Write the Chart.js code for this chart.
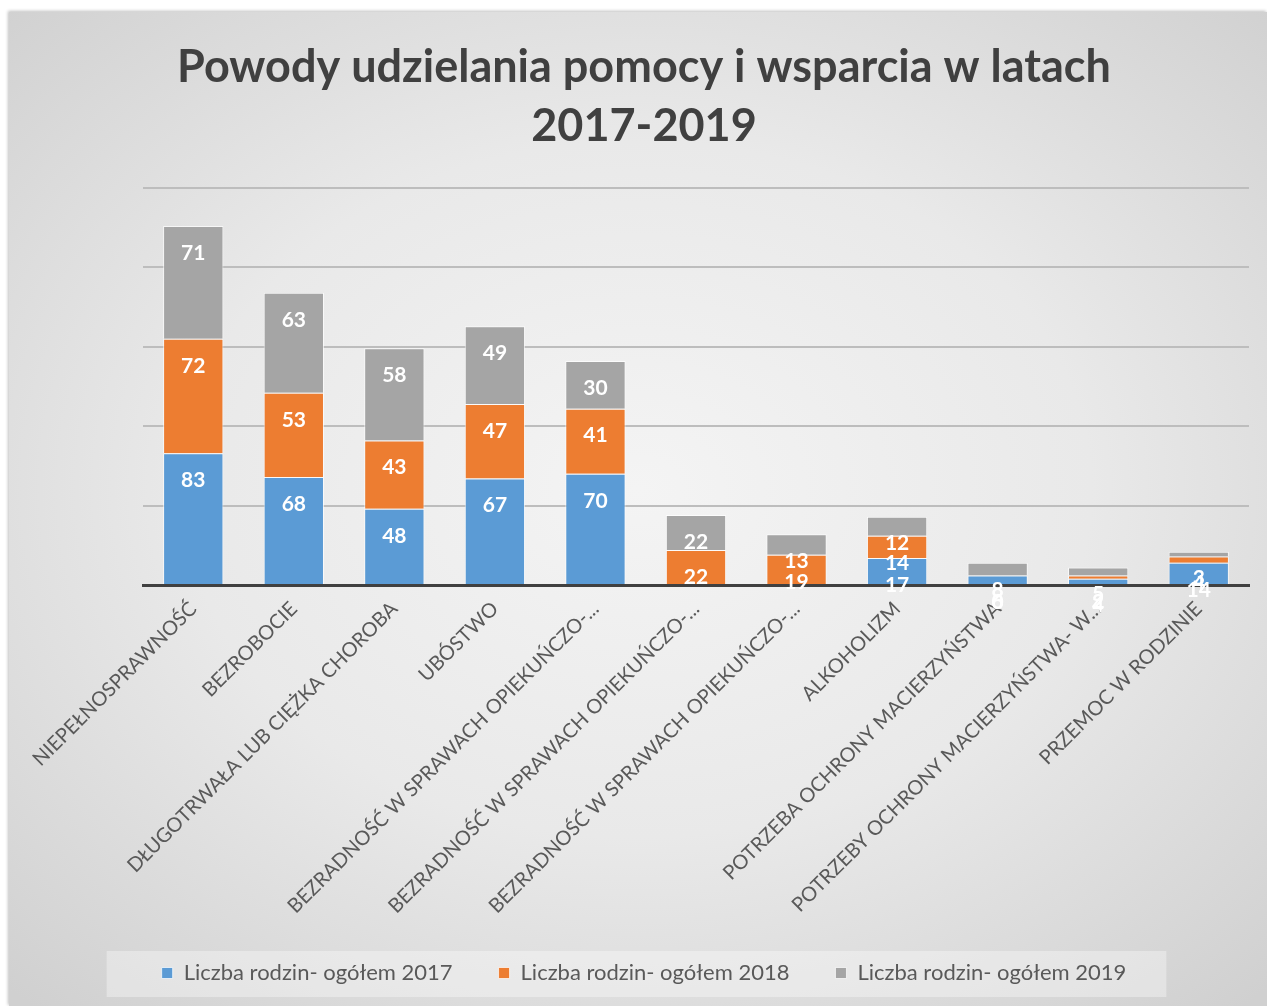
<!DOCTYPE html>
<html><head><meta charset="UTF-8">
<title>Powody udzielania pomocy i wsparcia w latach 2017-2019</title>
<script src="https://cdn.jsdelivr.net/npm/chart.js"></script>
<style>
  html,body{margin:0;background:#fff;overflow:hidden}
  #panel{position:absolute;left:9px;top:12px;width:1258px;height:994px;
    background:radial-gradient(ellipse 72% 70% at 50% 48%,#f4f4f4 0%,#e9e9e9 50%,#d0d0d0 100%);
    box-shadow:-1px -1px 3px rgba(0,0,0,0.25)}
  canvas{display:block}
</style>
</head><body>
<div id="panel"><canvas id="chart" width="1258" height="994"></canvas></div>
<script>
  // chart data
  const categories = [
    "NIEPEŁNOSPRAWNOŚĆ",
    "BEZROBOCIE",
    "DŁUGOTRWAŁA LUB CIĘŻKA CHOROBA",
    "UBÓSTWO",
    "BEZRADNOŚĆ W SPRAWACH OPIEKUŃCZO-...",
    "BEZRADNOŚĆ W SPRAWACH OPIEKUŃCZO-...",
    "BEZRADNOŚĆ W SPRAWACH OPIEKUŃCZO-...",
    "ALKOHOLIZM",
    "POTRZEBA OCHRONY MACIERZYŃSTWA",
    "POTRZEBY OCHRONY MACIERZYŃSTWA- W...",
    "PRZEMOC W RODZINIE"
  ];
  const seriesNames = ["Liczba rodzin- ogółem 2017", "Liczba rodzin- ogółem 2018", "Liczba rodzin- ogółem 2019"];
  const v2017 = [83, 68, 48, 67, 70, null, null, 17, 6, 4, 14];
  const v2018 = [72, 53, 43, 47, 41, 22, 19, 14, 0, 2, 4];
  const v2019 = [71, 63, 58, 49, 30, 22, 13, 12, 8, 5, 3];
  const yMax = 250, yStep = 50;

  const colors = ["#5b9bd5", "#ed7d31", "#a5a5a5"];
  const FONT = "Lato";
  const PLOT_BOTTOM = 573;   // x axis line inside the canvas
  const PAD_BOTTOM = 12;

  // white value labels, set a fixed distance below each segment's top (as in the original)
  const barLabels = {
    id: "barLabels",
    afterDatasetsDraw(chart) {
      const ctx = chart.ctx;
      ctx.save();
      ctx.font = "bold 21px " + FONT;
      ctx.fillStyle = "#ffffff";
      ctx.textAlign = "center";
      ctx.textBaseline = "middle";
      chart.data.datasets.forEach((ds, i) => {
        chart.getDatasetMeta(i).data.forEach((bar, j) => {
          const v = ds.data[j];
          if (v === null) return;
          ctx.fillText(String(v), bar.x, bar.y + 27);
        });
      });
      ctx.restore();
    }
  };

  // light box behind the legend
  const legendBox = {
    id: "legendBox",
    beforeDraw(chart) {
      const lg = chart.legend;
      if (!lg || !lg.legendHitBoxes || !lg.legendHitBoxes.length) return;
      const hb = lg.legendHitBoxes;
      const left = Math.min(...hb.map(h => h.left)) - 55;
      const right = Math.max(...hb.map(h => h.left + h.width)) + 40;
      const cy = hb[0].top + hb[0].height / 2;
      const ctx = chart.ctx;
      ctx.save();
      ctx.fillStyle = "rgba(255,255,255,0.35)";
      ctx.fillRect(left, cy - 22, right - left, 46);
      ctx.restore();
    }
  };

  new Chart(document.getElementById("chart"), {
    type: "bar",
    data: {
      labels: categories,
      datasets: [v2017, v2018, v2019].map((d, i) => ({
        label: seriesNames[i],
        data: d,
        backgroundColor: colors[i],
        borderColor: "rgba(255,255,255,0.7)",
        borderWidth: 1,
        barPercentage: 0.6,
        categoryPercentage: 1
      }))
    },
    options: {
      responsive: false,
      animation: false,
      layout: { padding: { top: 0, right: 18, bottom: PAD_BOTTOM, left: 30 } },
      plugins: {
        title: {
          display: true,
          text: ["Powody udzielania pomocy i wsparcia w latach", "2017-2019"],
          color: "#404040",
          font: { family: FONT, size: 45, weight: "bold", lineHeight: 1.333 },
          padding: { top: 25, bottom: 31 }
        },
        legend: {
          position: "bottom",
          labels: {
            color: "#595959",
            font: { family: FONT, size: 22 },
            boxWidth: 11,
            boxHeight: 11,
            padding: 46
          }
        },
        tooltip: { enabled: false }
      },
      scales: {
        x: {
          stacked: true,
          grid: { display: false, drawTicks: false },
          border: { display: true, color: "#404040", width: 3 },
          ticks: {
            color: "#595959",
            font: { family: FONT, size: 20 },
            minRotation: 45,
            maxRotation: 45,
            autoSkip: false,
            padding: 12
          },
          afterFit(s) {
            s.height = s.chart.height - PAD_BOTTOM - s.chart.legend.height - PLOT_BOTTOM;
          }
        },
        y: {
          stacked: true,
          min: 0,
          max: yMax,
          ticks: { display: false, stepSize: yStep },
          grid: { color: "#bdbdbd", lineWidth: 2, drawTicks: false },
          border: { display: false },
          afterFit(s) { s.width = 104; }
        }
      }
    },
    plugins: [legendBox, barLabels]
  });
</script>
</body></html>
